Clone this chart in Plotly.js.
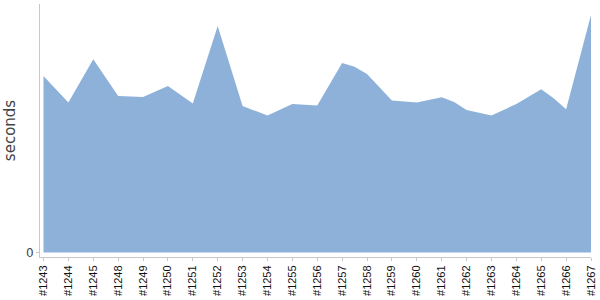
<!DOCTYPE html>
<html>
<head>
<meta charset="utf-8">
<script src="https://cdn.plot.ly/plotly-3.0.1.min.js"></script>
<style>html,body{margin:0;padding:0;background:#fff}#chart{width:600px;height:300px}</style>
</head>
<body>
<div id="chart"></div>
<script>
// Build labels (x ticks)
const builds = ['#1243','#1244','#1245','#1248','#1249','#1250','#1251','#1252','#1253','#1254','#1255','#1256','#1257','#1258','#1259','#1260','#1261','#1262','#1263','#1264','#1265','#1266','#1267'];
// Positions of the drawn vertices along the build axis (index of build, some vertices sit between builds)
const positions = [0,1,2,2.5,3,4,5,6,7,8,9,10,11,12,12.5,13,14,15,16,16.5,17,18,19,20,20.5,21,22];
// Duration values (seconds, relative units)
const seconds = [176.7,150,193.4,175.5,156.7,155.7,166.7,149,226.7,146.7,137,148.7,147,189.7,186,178.7,152,150,155.4,150.7,142.7,137,148.7,163.4,154.4,143.4,237.7];

const tickIdx = builds.map((b,i)=>i);

const trace = {
  x: positions,
  y: seconds,
  type: 'scatter',
  mode: 'lines',
  fill: 'tozeroy',
  fillcolor: '#8EB1DA',
  line: {color: '#8EB1DA', width: 0},
  hoverinfo: 'skip'
};

const layout = {
  width: 600, height: 300,
  margin: {l: 40, r: 9, t: 4, b: 43},
  paper_bgcolor: '#fff', plot_bgcolor: '#fff',
  showlegend: false,
  xaxis: {
    range: [-0.14, 22],
    tickvals: tickIdx,
    ticktext: builds,
    tickangle: -90,
    showgrid: false, zeroline: false,
    showline: true, linecolor: '#c8c8c8', linewidth: 1,
    ticks: 'outside', ticklen: 3, tickcolor: '#c8c8c8',
    tickfont: {family: 'Liberation Sans, Arial, sans-serif', size: 11, color: '#111'}
  },
  yaxis: {
    range: [-4.5, 248.7],
    tickvals: [0],
    ticktext: ['0'],
    showgrid: false, zeroline: false,
    showline: true, linecolor: '#c8c8c8', linewidth: 1,
    ticks: 'outside', ticklen: 3, tickcolor: '#c8c8c8',
    tickfont: {family: 'DejaVu Sans, sans-serif', size: 12, color: '#444'},
    title: {text: 'seconds', font: {family: 'DejaVu Sans, sans-serif', size: 15, color: '#444'}, standoff: 6}
  }
};

Plotly.newPlot('chart', [trace], layout, {staticPlot: true, displayModeBar: false});
</script>
</body>
</html>
